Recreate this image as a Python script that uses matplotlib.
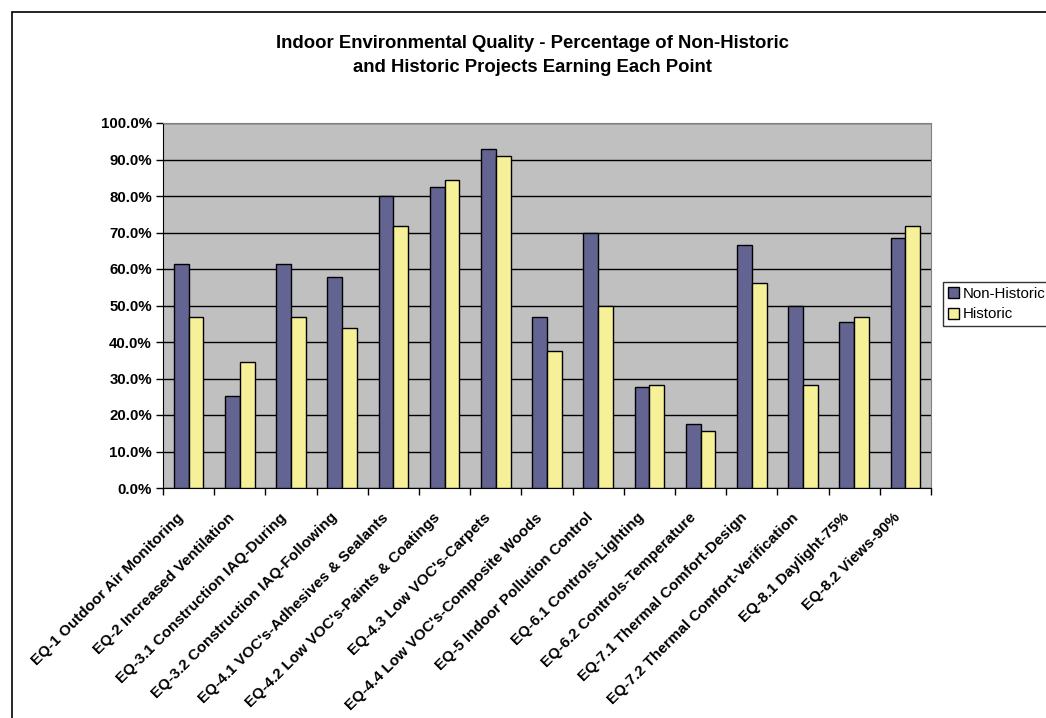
import numpy as np
import matplotlib.pyplot as plt
from matplotlib.patches import Rectangle
from matplotlib.ticker import PercentFormatter, FixedLocator
from matplotlib.transforms import ScaledTranslation

plt.rcParams['font.family'] = ['Liberation Sans', 'DejaVu Sans']
plt.rcParams['font.weight'] = 'bold'

credits = ["EQ-1 Outdoor Air Monitoring", "EQ-2 Increased Ventilation",
           "EQ-3.1 Construction IAQ-During", "EQ-3.2 Construction IAQ-Following",
           "EQ-4.1 VOC's-Adhesives & Sealants", "EQ-4.2 Low VOC's-Paints & Coatings",
           "EQ-4.3 Low VOC's-Carpets", "EQ-4.4 Low VOC's-Composite Woods",
           "EQ-5 Indoor Pollution Control", "EQ-6.1 Controls-Lighting",
           "EQ-6.2 Controls-Temperature", "EQ-7.1 Thermal Comfort-Design",
           "EQ-7.2 Thermal Comfort-Verification", "EQ-8.1 Daylight-75%",
           "EQ-8.2 Views-90%"]
non_historic = [61.4, 25.2, 61.4, 57.9, 80.0, 82.5, 93.0, 46.8, 69.8, 27.8,
                17.4, 66.7, 50.0, 45.6, 68.4]
historic = [46.9, 34.4, 46.9, 43.8, 71.9, 84.4, 90.9, 37.5, 50.0, 28.1,
            15.6, 56.3, 28.1, 46.9, 71.9]

fig = plt.figure(figsize=(10.46, 7.18), dpi=100)
# chart frame (runs off the right and bottom edges)
fig.patches.append(Rectangle((12/1046, -0.05), 1.2, 1 - 12/718 + 0.05,
                             transform=fig.transFigure, fill=False,
                             edgecolor='black', linewidth=1.2))

ax = fig.add_axes([163/1046, 1 - 488/718, 768/1046, 365/718])
ax.set_facecolor('#c0c0c0')

x = np.arange(len(credits))
w = 0.29
ax.bar(x - w/2, non_historic, w, color='#646493', edgecolor='black',
       linewidth=1, label='Non-Historic', zorder=3)
ax.bar(x + w/2, historic, w, color='#f6f199', edgecolor='black',
       linewidth=1, label='Historic', zorder=3)

ax.set_xlim(-0.5, len(credits) - 0.5)
ax.set_ylim(0, 100)
ax.set_yticks(np.arange(0, 101, 10))
ax.yaxis.set_major_formatter(PercentFormatter(decimals=1))
ax.grid(axis='y', color='black', linewidth=1, zorder=1)
ax.tick_params(axis='y', labelsize=10.8, length=5, width=1, pad=3)

# ticks between groups, labels under group centres
ax.xaxis.set_major_locator(FixedLocator(np.arange(-0.5, len(credits), 1.0)))
ax.xaxis.set_minor_locator(FixedLocator(x))
ax.set_xticklabels([])
labels = ax.set_xticklabels(credits, minor=True, rotation=45, ha='right',
                            rotation_mode='anchor', fontsize=11)
ax.tick_params(axis='x', which='major', length=5, width=1)
ax.tick_params(axis='x', which='minor', length=0, pad=14)
shift = ScaledTranslation(-0.12, -0.03, fig.dpi_scale_trans)
for lab in labels:
    lab.set_transform(lab.get_transform() + shift)

for side in ['top', 'right']:
    ax.spines[side].set_color('#808080')
for side in ['left', 'bottom']:
    ax.spines[side].set_color('black')

fig.text(0.509, 1 - 44/718, "Indoor Environmental Quality - Percentage of Non-Historic",
         ha='center', va='center', fontsize=13.3, fontweight='bold')
fig.text(0.509, 1 - 68/718, "and Historic Projects Earning Each Point",
         ha='center', va='center', fontsize=13.3, fontweight='bold')

leg = fig.legend(loc='upper left', bbox_to_anchor=(943/1046, 1 - 282/718),
                 fontsize=10.8, frameon=True, fancybox=False, borderpad=0.3,
                 handlelength=0.75, handleheight=0.75, handletextpad=0.25,
                 labelspacing=0.45, borderaxespad=0)
leg.get_frame().set_edgecolor('black')
leg.get_frame().set_linewidth(1)
for t in leg.get_texts():
    t.set_fontweight('normal')

fig.savefig('out.png', dpi=100)
